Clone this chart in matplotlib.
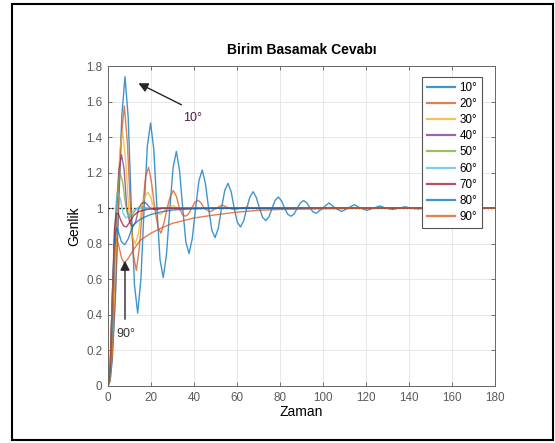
import matplotlib
matplotlib.use("Agg")
import matplotlib.pyplot as plt
from matplotlib.patches import Rectangle

plt.rcParams['font.family'] = ['Liberation Sans', 'DejaVu Sans']

# 10 deg
t10 = [0, 1, 2, 3.47, 4.95, 6.42, 7.9, 9.4, 10.85, 12.3, 13.8, 15.3, 16.8, 18.3, 19.8, 21.3, 22.75, 24.2,
       25.7, 27.2, 28.75, 30.3, 31.8, 33.3, 34.75, 36.2, 37.7, 39.2, 40.75, 42.3, 43.8, 45.3, 46.8, 48.3,
       49.8, 51.3, 52.8, 54.3, 55.8, 57.3, 58.7, 60.1, 61.6, 63.1, 64.55, 66.0, 67.5, 69.0, 70.45, 71.9,
       73.4, 74.9, 76.3, 77.7, 79.2, 80.7, 82.15, 83.6, 85.1, 86.6, 88.0, 89.5, 91.0, 92.5, 94.0, 95.4,
       96.9, 99.8, 102.8, 105.7, 108.7, 111.6, 114.6, 117.5, 120.5, 123.4, 126.4, 129.3, 132.3, 135.2,
       138.2, 141.1, 144.1, 147, 150, 153, 156, 159, 180]
y10 = [0, 0.03, 0.15, 0.5, 1.0, 1.52, 1.74, 1.51, 1.0, 0.57, 0.41, 0.6, 1.0, 1.35, 1.48, 1.33, 1.0, 0.71,
       0.61, 0.74, 1.0, 1.23, 1.32, 1.21, 1.0, 0.81, 0.745, 0.83, 1.0, 1.155, 1.215, 1.14, 1.0, 0.876,
       0.835, 0.887, 1.0, 1.10, 1.14, 1.092, 1.0, 0.922, 0.895, 0.929, 1.0, 1.064, 1.093, 1.06, 1.0, 0.949,
       0.93, 0.953, 1.0, 1.044, 1.063, 1.042, 1.0, 0.966, 0.955, 0.968, 1.0, 1.03, 1.043, 1.03, 1.0, 0.979,
       0.972, 1.0, 1.03, 1.0, 0.982, 1.0, 1.02, 1.0, 0.988, 1.0, 1.013, 1.0, 0.993, 1.0,
       1.008, 1.0, 0.996, 1.0, 1.004, 1.0, 0.998, 1.0, 1.0]

# 20 deg
t20 = [0, 1, 2, 3.3, 4.75, 6.17, 7.6, 9.0, 10.45, 11.9, 13.2, 14.6, 16.05, 17.5, 18.9, 20.3, 21.75, 23.2,
       24.6, 26.0, 27.5, 28.9, 30.4, 31.8, 33.2, 34.6, 36.0, 37.4, 38.9, 40.3, 41.8, 43.2, 44.6, 47.5,
       50.3, 53.2, 56.1, 59.0, 61.8, 64.7, 67.5, 70.4, 73.3, 180]
y20 = [0, 0.03, 0.18, 0.5, 1.0, 1.40, 1.575, 1.37, 1.0, 0.73, 0.65, 0.78, 1.0, 1.18, 1.23, 1.14, 1.0, 0.894,
       0.86, 0.915, 1.0, 1.064, 1.10, 1.067, 1.0, 0.965, 0.955, 0.967, 1.0, 1.032, 1.045, 1.032, 1.0, 0.98,
       1.0, 1.018, 1.0, 0.993, 1.0, 1.006, 1.0, 0.997, 1.0, 1.0]

# 30 deg
t30 = [0, 1, 2, 3.2, 4.3, 5.5, 6.8, 8.2, 9.6, 11.2, 12.7, 14.2, 15.6, 17.1, 18.5, 19.9, 21.4, 22.8, 24.3,
       25.7, 27.2, 30, 32.8, 35.7, 38.6, 180]
y30 = [0, 0.04, 0.25, 0.62, 1.0, 1.33, 1.43, 1.27, 1.0, 0.845, 0.80, 0.86, 1.0, 1.065, 1.09, 1.06, 1.0, 0.975,
       0.965, 0.977, 1.0, 1.015, 1.0, 0.995, 1.0, 1.0]

# 40 deg
t40 = [0, 1, 2, 3, 4, 5.1, 6.3, 7.5, 8.7, 10.1, 11.5, 12.9, 14.3, 15.5, 16.8, 18, 19.6, 22.4, 25.2, 28, 31, 180]
y40 = [0, 0.05, 0.3, 0.7, 1.0, 1.22, 1.30, 1.22, 1.0, 0.92, 0.895, 0.925, 1.0, 1.025, 1.035, 1.025, 1.0,
       0.99, 1.0, 1.004, 1.0, 1.0]

# 50 deg
t50 = [0, 1, 2, 3, 4, 4.9, 5.8, 6.8, 7.8, 9, 10.5, 12, 13.5, 15.5, 18, 180]
y50 = [0, 0.06, 0.35, 0.78, 1.05, 1.16, 1.19, 1.15, 1.05, 0.97, 0.95, 0.975, 1.0, 1.01, 1.0, 1.0]

# 60 deg
t60 = [0, 1, 2, 3, 4, 4.8, 5.8, 7, 8.3, 10, 12, 14, 180]
y60 = [0, 0.08, 0.42, 0.85, 1.06, 1.085, 1.05, 0.97, 0.945, 0.96, 0.99, 1.0, 1.0]

# 70 deg
t70 = [0, 1, 2, 3, 3.8, 4.8, 6, 7.3, 8.6, 10, 12, 14, 17, 22, 180]
y70 = [0, 0.1, 0.5, 0.88, 0.97, 0.97, 0.93, 0.9, 0.895, 0.92, 0.96, 0.98, 0.99, 1.0, 1.0]

# 80 deg
t80 = [0, 1, 2, 3, 4, 5, 6.3, 7.8, 9.5, 11.5, 14, 17, 20, 25, 30, 40, 50, 180]
y80 = [0, 0.1, 0.5, 0.82, 0.89, 0.86, 0.81, 0.795, 0.83, 0.9, 0.93, 0.95, 0.965, 0.98, 0.99, 0.997, 1.0, 1.0]

# 90 deg
t90 = [0, 1, 2, 3, 4, 5, 6.3, 7.6, 9.5, 12, 15, 20, 25, 30, 40, 50, 60, 70, 80, 100, 120, 180]
y90 = [0, 0.12, 0.5, 0.78, 0.83, 0.79, 0.72, 0.69, 0.72, 0.77, 0.82, 0.86, 0.89, 0.915, 0.945, 0.963,
       0.978, 0.988, 0.993, 0.997, 1.0, 1.0]

labels = ['10°', '20°', '30°', '40°', '50°', '60°', '70°', '80°', '90°']
colors = ['#0072BD', '#D95319', '#EDB120', '#7E2F8E', '#77AC30', '#4DBEEE', '#A2142F', '#0072BD', '#D95319']
series = [(t10, y10), (t20, y20), (t30, y30), (t40, y40), (t50, y50),
          (t60, y60), (t70, y70), (t80, y80), (t90, y90)]

fig = plt.figure(figsize=(5.55, 4.43), dpi=100)
ax = fig.add_axes([0.1946, 0.1287, 0.6973, 0.7223])

ax.axhline(1.0, color='black', linestyle=':', linewidth=1.0, zorder=1)
for (t, y), c, lab in zip(series, colors, labels):
    ax.plot(t, y, color=c, linewidth=1.0, alpha=0.75, label=lab, zorder=2)

ax.set_xlim(0, 180)
ax.set_ylim(0, 1.8)
ax.set_xticks(range(0, 181, 20))
ax.set_yticks([0, 0.2, 0.4, 0.6, 0.8, 1, 1.2, 1.4, 1.6, 1.8])
ax.set_yticklabels(['0', '0.2', '0.4', '0.6', '0.8', '1', '1.2', '1.4', '1.6', '1.8'])
ax.grid(True, color='#e3e3e3', linewidth=0.6)
ax.set_axisbelow(True)
ax.tick_params(direction='in', top=True, right=True, length=3, width=0.6,
               colors='#5a5a5a', labelsize=8.4, pad=4)
for s in ax.spines.values():
    s.set_color('#666666')
    s.set_linewidth(0.7)

ax.set_title('Birim Basamak Cevabı', fontsize=10, fontweight='bold', pad=9)
ax.set_xlabel('Zaman', fontsize=10, labelpad=1)
ax.set_ylabel('Genlik', fontsize=10, labelpad=4)

ax.annotate('', xy=(13.0, 1.71), xytext=(35.3, 1.575),
            arrowprops=dict(arrowstyle='-|>', color='#262626', lw=1.0, mutation_scale=14))
ax.text(39.5, 1.51, '10°', color='#4d1a4d', fontsize=9, ha='center', va='center')
ax.annotate('', xy=(7.9, 0.72), xytext=(7.9, 0.36),
            arrowprops=dict(arrowstyle='-|>', color='#262626', lw=1.0, mutation_scale=14))
ax.text(8.4, 0.29, '90°', color='#333333', fontsize=9, ha='center', va='center')

leg = ax.legend(loc='upper right', bbox_to_anchor=(482 / 555, 1 - 77 / 443),
                bbox_transform=fig.transFigure, fontsize=8.4, frameon=True, fancybox=False,
                edgecolor='#555555', framealpha=1, handlelength=2.4, handletextpad=0.4,
                labelspacing=0.36, borderpad=0.4, borderaxespad=0)
leg.get_frame().set_linewidth(0.8)
for h in leg.get_lines():
    h.set_linewidth(1.6)

fig.patches.append(Rectangle((12 / 555, 3 / 443), 541 / 555, 436 / 443, transform=fig.transFigure,
                             fill=False, edgecolor='black', linewidth=1.5))

fig.savefig('out.png', dpi=100)
